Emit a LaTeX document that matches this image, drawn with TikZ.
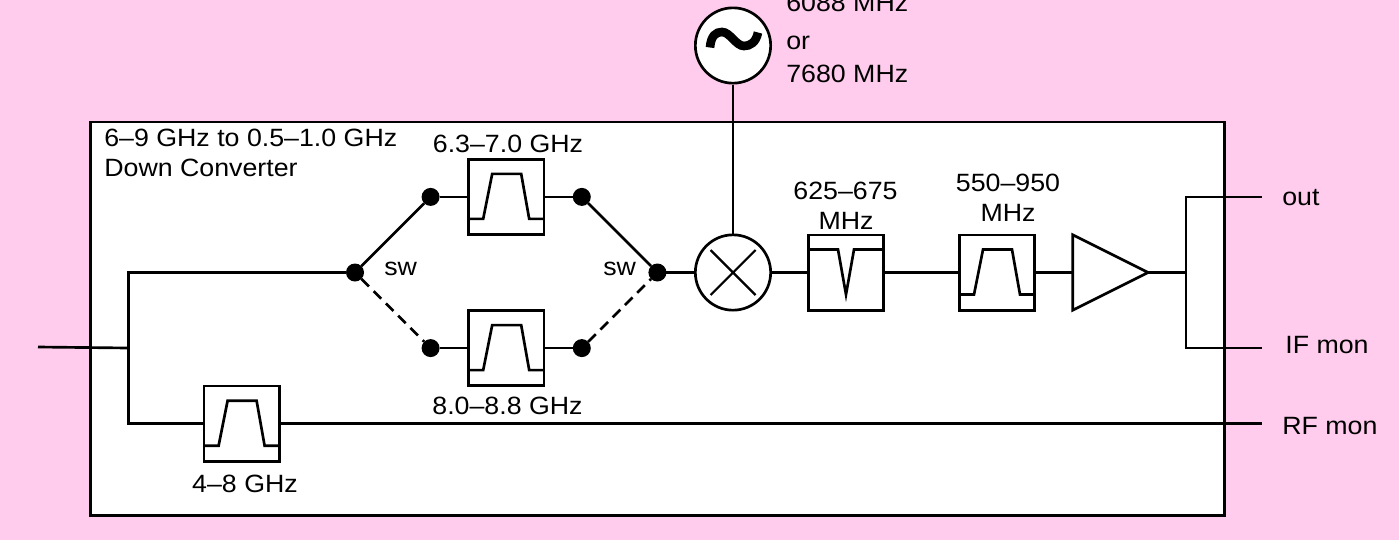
\documentclass[tikz,border=0pt]{standalone}
\usepackage{fontspec}
\setmainfont[FakeStretch=1.07]{Liberation Sans}
\usetikzlibrary{positioning,shapes.geometric}
\definecolor{bgpink}{HTML}{FFCCEE}

\begin{document}
\begin{tikzpicture}[
    x=0.75pt, y=-0.75pt,
    on grid,
    node distance=56.7pt and 56.7pt,
    line width=2pt,
    wire/.style={line width=2pt},
    blockbox/.style={rectangle, draw, fill=white, minimum size=56.5pt, inner sep=0pt},
    bandpass/.style={blockbox, path picture={
        \draw[shift={(path picture bounding box.center)}] (-38,22) -- (-23,22) -- (-14,-23) -- (15,-23) -- (23,22) -- (38,22);}},
    notch/.style={blockbox, path picture={
        \draw[shift={(path picture bounding box.center)}] (-38,-23) -- (-8,-23) -- (0,22) -- (8,-23) -- (38,-23);}},
    mixer/.style={circle, draw, fill=white, minimum size=56.5pt, inner sep=0pt, path picture={
        \draw[line width=1.6pt, shift={(path picture bounding box.center)}] (-22.5,-22.5) -- (22.5,22.5) (-22.5,22.5) -- (22.5,-22.5);}},
    osc/.style={circle, draw, fill=white, minimum size=56.5pt, inner sep=0pt, path picture={
        \draw[line width=6.5pt, shift={(path picture bounding box.center)}] (-23,2) .. controls (-22,-10) and (-17,-13.5) .. (-11,-13.5) .. controls (-3,-13.5) and (3,0.5) .. (11,0.5) .. controls (17,0.5) and (23,-3) .. (25,-13);}},
    amplifier/.style={isosceles triangle, isosceles triangle stretches, draw, fill=white, minimum width=56.5pt, minimum height=56.5pt, inner sep=0pt, outer sep=0pt},
    swdot/.style={circle, fill=black, minimum size=13.5pt, inner sep=0pt, outer sep=0pt},
    lbl/.style={font=\fontsize{18.75pt}{20pt}\selectfont, inner sep=0pt},
    swpath/.style={wire, dash pattern=on 8pt off 5pt}
]
    % Sheet and converter box
    \fill[bgpink] (0,0) rectangle (1399,540);
    \useasboundingbox (0,0) rectangle (1399,540);
    \node[draw, fill=white, minimum width=850.5pt, minimum height=295pt, inner sep=0pt] (conv) at (657.5,318.5) {};

    % Main path
    \node[mixer] (mix) at (733,272.5) {};
    \node[osc, above=170.25pt of mix] (lo) {};
    \node[notch, right=84.75pt of mix] (bsf) {};
    \node[bandpass, right=113.25pt of bsf] (bpif) {};
    \node[amplifier, right=74.25pt of bpif] (amp) {};

    % Switched filters
    \node[swdot, left=of mix] (swr) {};
    \node[swdot, above left=of swr] (dotur) {};
    \node[bandpass, left=of dotur] (bpup) {};
    \node[swdot, left=of bpup] (dotul) {};
    \node[swdot, below left=of dotul] (swl) {};
    \node[swdot, below right=of swl] (dotll) {};
    \node[bandpass, right=of dotll] (bplo) {};
    \node[swdot, right=of bplo] (dotlr) {};

    % Monitor filter
    \node[bandpass, below left=113.4pt and 85.05pt of swl] (bprf) {};

    % Junctions and ports
    \coordinate[left=169.9pt of swl] (jtop);
    \coordinate (jbot) at (jtop |- bprf);
    \coordinate (jin) at (128.5,348);
    \coordinate (port) at (38,347);
    \coordinate (jout) at (1186,272.5);
    \coordinate (pout) at (1262,197);
    \coordinate (pif) at (1262,348);
    \coordinate (prf) at (1262,423.7);

    % Wires
    \draw[wire] (port) -- (jin);
    \draw[wire] (swl) -- (jtop) -- (jbot) -- (bprf);
    \draw[wire] (bprf) -- (prf);
    \draw[wire] (swl) -- (dotul);
    \draw[wire] (dotul) -- (bpup);
    \draw[wire] (bpup) -- (dotur);
    \draw[wire] (dotur) -- (swr);
    \draw[swpath] (swl) -- (dotll);
    \draw[wire] (dotll) -- (bplo);
    \draw[wire] (bplo) -- (dotlr);
    \draw[swpath] (dotlr) -- (swr);
    \draw[wire] (swr) -- (mix);
    \draw[wire] (lo) -- (mix);
    \draw[wire] (mix) -- (bsf);
    \draw[wire] (bsf) -- (bpif);
    \draw[wire] (bpif) -- (amp);
    \draw[wire] (amp.apex) -- (jout);
    \draw[wire] (pout) -- (pout -| jout) -- (pif -| jout) -- (pif);

    % Labels
    \node[lbl, anchor=base west] (ttl) at (103,146.7) {6–9 GHz to 0.5–1.0 GHz};
    \node[lbl, anchor=base west] (ttlb) at (103,176) {Down Converter};
    \node[lbl, anchor=base] (lbup) at (508,152.7) {6.3–7.0 GHz};
    \node[lbl, anchor=base] (lblo) at (507.5,414) {8.0–8.8 GHz};
    \node[lbl, anchor=base] (lbrf) at (245,492) {4–8 GHz};
    \node[lbl, anchor=base] (lbbsa) at (845.5,199) {625–675};
    \node[lbl, anchor=base] (lbbsb) at (846,229) {MHz};
    \node[lbl, anchor=base] (lbifa) at (1008,191.7) {550–950};
    \node[lbl, anchor=base] (lbifb) at (1008,221) {MHz};
    \node[lbl, anchor=base west] (lbswl) at (383,275.7) {sw};
    \node[lbl, anchor=base west] (lbswr) at (602,275.7) {sw};
    \node[lbl, anchor=base west] (lofa) at (785,11) {6088 MHz};
    \node[lbl, anchor=base west] (lofb) at (785,49) {or};
    \node[lbl, anchor=base west] (lofc) at (785,82) {7680 MHz};
    \node[lbl, anchor=base west] (lbout) at (1281,205) {out};
    \node[lbl, anchor=base west] (lbif) at (1284,353) {IF mon};
    \node[lbl, anchor=base west] (lbmon) at (1281,434) {RF mon};
\end{tikzpicture}
\end{document}
